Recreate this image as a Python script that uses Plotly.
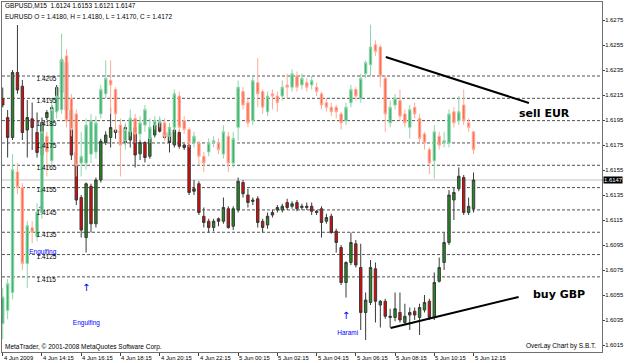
import plotly.graph_objects as go

# ---------------- data ----------------
time_labels = ["4 Jun 2009", "4 Jun 14:15", "4 Jun 16:15", "4 Jun 18:15", "4 Jun 20:15",
               "4 Jun 22:15", "5 Jun 00:15", "5 Jun 02:15", "5 Jun 04:15", "5 Jun 06:15",
               "5 Jun 08:15", "5 Jun 10:15", "5 Jun 12:15"]
label_bars = [0, 8, 16, 24, 32, 40, 48, 56, 64, 72, 80, 88, 96]

gbp_open = [1.6212, 1.6197, 1.6181, 1.6233, 1.6222, 1.6187, 1.6196, 1.6185, 1.6167, 1.6197,
            1.6195, 1.6203, 1.6217, 1.6241, 1.6203, 1.6169, 1.6133, 1.6101, 1.6142, 1.6112,
            1.6147, 1.6177, 1.6181, 1.6187, 1.6185, 1.6189, 1.6179, 1.6189, 1.6168, 1.6177,
            1.6166, 1.6183, 1.6193, 1.6185, 1.6185, 1.6175, 1.6185, 1.6175, 1.6175, 1.6140,
            1.6144, 1.6118, 1.6114, 1.6109, 1.6116, 1.6114, 1.6124, 1.6110, 1.6123, 1.6145,
            1.6135, 1.6131, 1.6132, 1.6114, 1.6111, 1.6121, 1.6123, 1.6123, 1.6129, 1.6126,
            1.6129, 1.6125, 1.6125, 1.6126, 1.6122, 1.6124, 1.6114, 1.6118, 1.6106, 1.6093,
            1.6065, 1.6081, 1.6096, 1.6077, 1.6041, 1.6049, 1.6076, 1.6047, 1.6050, 1.6037,
            1.6037, 1.6041, 1.6033, 1.6039, 1.6042, 1.6037, 1.6043, 1.6050, 1.6037, 1.6066,
            1.6081, 1.6097, 1.6131, 1.6140, 1.6149, 1.6121, 1.6124]
gbp_high = [1.6221, 1.6203, 1.6235, 1.6271, 1.6227, 1.6211, 1.6209, 1.6201, 1.6197, 1.6203,
            1.6207, 1.6223, 1.6245, 1.6245, 1.6205, 1.6171, 1.6135, 1.6145, 1.6144, 1.6149,
            1.6180, 1.6186, 1.6205, 1.6190, 1.6190, 1.6191, 1.6197, 1.6191, 1.6179, 1.6178,
            1.6189, 1.6195, 1.6196, 1.6187, 1.6187, 1.6191, 1.6187, 1.6176, 1.6177, 1.6147,
            1.6146, 1.6125, 1.6116, 1.6116, 1.6117, 1.6133, 1.6126, 1.6126, 1.6149, 1.6147,
            1.6140, 1.6133, 1.6134, 1.6116, 1.6121, 1.6123, 1.6127, 1.6128, 1.6132, 1.6130,
            1.6131, 1.6128, 1.6129, 1.6129, 1.6123, 1.6126, 1.6120, 1.6120, 1.6108, 1.6095,
            1.6082, 1.6105, 1.6099, 1.6096, 1.6057, 1.6083, 1.6081, 1.6051, 1.6052, 1.6044,
            1.6057, 1.6057, 1.6048, 1.6045, 1.6045, 1.6048, 1.6055, 1.6052, 1.6073, 1.6085,
            1.6105, 1.6139, 1.6141, 1.6157, 1.6151, 1.6133, 1.6153]
gbp_low = [1.6205, 1.6165, 1.6179, 1.6216, 1.6179, 1.6165, 1.6171, 1.6165, 1.6163, 1.6195,
           1.6193, 1.6201, 1.6215, 1.6201, 1.6163, 1.6127, 1.6101, 1.6089, 1.6105, 1.6109,
           1.6145, 1.6175, 1.6173, 1.6180, 1.6181, 1.6175, 1.6173, 1.6157, 1.6163, 1.6161,
           1.6164, 1.6181, 1.6185, 1.6179, 1.6169, 1.6173, 1.6172, 1.6171, 1.6135, 1.6135,
           1.6119, 1.6109, 1.6105, 1.6106, 1.6110, 1.6112, 1.6108, 1.6107, 1.6121, 1.6133,
           1.6125, 1.6127, 1.6109, 1.6105, 1.6108, 1.6117, 1.6121, 1.6121, 1.6123, 1.6124,
           1.6122, 1.6123, 1.6123, 1.6119, 1.6119, 1.6101, 1.6112, 1.6104, 1.6089, 1.6063,
           1.6053, 1.6079, 1.6077, 1.6027, 1.6019, 1.6047, 1.6033, 1.6029, 1.6036, 1.6029,
           1.6034, 1.6033, 1.6031, 1.6027, 1.6035, 1.6023, 1.6041, 1.6035, 1.6035, 1.6065,
           1.6075, 1.6095, 1.6115, 1.6138, 1.6119, 1.6119, 1.6121]
gbp_close = [1.6207, 1.6181, 1.6233, 1.6219, 1.6185, 1.6197, 1.6189, 1.6169, 1.6193, 1.6201,
             1.6205, 1.6221, 1.6243, 1.6203, 1.6167, 1.6131, 1.6107, 1.6144, 1.6112, 1.6147,
             1.6178, 1.6183, 1.6189, 1.6185, 1.6186, 1.6177, 1.6186, 1.6167, 1.6177, 1.6165,
             1.6181, 1.6191, 1.6186, 1.6181, 1.6177, 1.6187, 1.6174, 1.6173, 1.6137, 1.6138,
             1.6121, 1.6113, 1.6109, 1.6114, 1.6114, 1.6125, 1.6109, 1.6124, 1.6146, 1.6136,
             1.6129, 1.6130, 1.6113, 1.6109, 1.6118, 1.6119, 1.6125, 1.6126, 1.6125, 1.6128,
             1.6124, 1.6126, 1.6126, 1.6122, 1.6121, 1.6113, 1.6117, 1.6105, 1.6097, 1.6065,
             1.6081, 1.6097, 1.6079, 1.6041, 1.6051, 1.6077, 1.6050, 1.6050, 1.6038, 1.6038,
             1.6044, 1.6035, 1.6038, 1.6041, 1.6039, 1.6045, 1.6049, 1.6037, 1.6065, 1.6077,
             1.6097, 1.6135, 1.6137, 1.6150, 1.6121, 1.6126, 1.6147]

eur_open = [1.4094, 1.4100, 1.4108, 1.4162, 1.4155, 1.4121, 1.4137, 1.4133, 1.4144, 1.4178,
            1.4167, 1.4189, 1.4190, 1.4214, 1.4195, 1.4188, 1.4166, 1.4166, 1.4170, 1.4171,
            1.4188, 1.4197, 1.4203, 1.4199, 1.4183, 1.4176, 1.4180, 1.4186, 1.4179, 1.4183,
            1.4177, 1.4183, 1.4184, 1.4184, 1.4178, 1.4182, 1.4196, 1.4185, 1.4181, 1.4175,
            1.4175, 1.4169, 1.4171, 1.4175, 1.4175, 1.4170, 1.4178, 1.4166, 1.4182, 1.4198,
            1.4193, 1.4185, 1.4202, 1.4198, 1.4189, 1.4197, 1.4196, 1.4196, 1.4201, 1.4200,
            1.4205, 1.4201, 1.4202, 1.4201, 1.4200, 1.4197, 1.4193, 1.4191, 1.4191, 1.4188,
            1.4185, 1.4193, 1.4199, 1.4195, 1.4206, 1.4210, 1.4219, 1.4218, 1.4204, 1.4184,
            1.4192, 1.4194, 1.4188, 1.4182, 1.4191, 1.4186, 1.4179, 1.4172, 1.4167, 1.4178,
            1.4175, 1.4175, 1.4189, 1.4185, 1.4192, 1.4184, 1.4180]
eur_high = [1.4110, 1.4114, 1.4170, 1.4166, 1.4157, 1.4140, 1.4140, 1.4148, 1.4184, 1.4180,
            1.4194, 1.4200, 1.4224, 1.4217, 1.4197, 1.4190, 1.4180, 1.4186, 1.4188, 1.4187,
            1.4201, 1.4212, 1.4212, 1.4200, 1.4186, 1.4184, 1.4190, 1.4188, 1.4187, 1.4192,
            1.4186, 1.4187, 1.4187, 1.4186, 1.4184, 1.4199, 1.4198, 1.4187, 1.4182, 1.4180,
            1.4176, 1.4171, 1.4177, 1.4178, 1.4177, 1.4183, 1.4180, 1.4180, 1.4203, 1.4200,
            1.4195, 1.4205, 1.4213, 1.4199, 1.4198, 1.4199, 1.4198, 1.4203, 1.4206, 1.4208,
            1.4207, 1.4206, 1.4204, 1.4205, 1.4202, 1.4198, 1.4195, 1.4193, 1.4192, 1.4189,
            1.4193, 1.4201, 1.4200, 1.4206, 1.4212, 1.4228, 1.4221, 1.4219, 1.4205, 1.4194,
            1.4197, 1.4199, 1.4190, 1.4192, 1.4193, 1.4188, 1.4180, 1.4173, 1.4183, 1.4180,
            1.4180, 1.4190, 1.4191, 1.4196, 1.4199, 1.4186, 1.4180]
eur_low = [1.4087, 1.4096, 1.4105, 1.4152, 1.4118, 1.4110, 1.4130, 1.4131, 1.4141, 1.4160,
           1.4165, 1.4186, 1.4188, 1.4182, 1.4178, 1.4160, 1.4160, 1.4163, 1.4166, 1.4168,
           1.4186, 1.4195, 1.4188, 1.4180, 1.4160, 1.4172, 1.4178, 1.4175, 1.4176, 1.4180,
           1.4175, 1.4181, 1.4182, 1.4176, 1.4176, 1.4180, 1.4180, 1.4179, 1.4173, 1.4173,
           1.4165, 1.4162, 1.4169, 1.4173, 1.4170, 1.4168, 1.4162, 1.4164, 1.4176, 1.4190,
           1.4182, 1.4183, 1.4191, 1.4188, 1.4187, 1.4190, 1.4189, 1.4194, 1.4195, 1.4198,
           1.4198, 1.4199, 1.4198, 1.4199, 1.4196, 1.4190, 1.4189, 1.4187, 1.4186, 1.4181,
           1.4183, 1.4191, 1.4194, 1.4193, 1.4204, 1.4205, 1.4214, 1.4200, 1.4180, 1.4182,
           1.4190, 1.4185, 1.4182, 1.4177, 1.4186, 1.4175, 1.4172, 1.4161, 1.4159, 1.4172,
           1.4173, 1.4173, 1.4182, 1.4183, 1.4183, 1.4180, 1.4170]
eur_close = [1.4106, 1.4112, 1.4163, 1.4155, 1.4121, 1.4138, 1.4135, 1.4144, 1.4180, 1.4171,
             1.4190, 1.4196, 1.4212, 1.4185, 1.4181, 1.4165, 1.4169, 1.4183, 1.4185, 1.4184,
             1.4199, 1.4204, 1.4201, 1.4188, 1.4174, 1.4181, 1.4186, 1.4179, 1.4184, 1.4190,
             1.4182, 1.4185, 1.4185, 1.4178, 1.4182, 1.4197, 1.4182, 1.4181, 1.4175, 1.4178,
             1.4169, 1.4166, 1.4175, 1.4176, 1.4172, 1.4180, 1.4166, 1.4177, 1.4200, 1.4192,
             1.4184, 1.4203, 1.4197, 1.4191, 1.4196, 1.4196, 1.4193, 1.4200, 1.4200, 1.4206,
             1.4200, 1.4204, 1.4200, 1.4203, 1.4198, 1.4192, 1.4191, 1.4189, 1.4189, 1.4184,
             1.4191, 1.4199, 1.4196, 1.4204, 1.4211, 1.4218, 1.4216, 1.4205, 1.4188, 1.4191,
             1.4195, 1.4187, 1.4184, 1.4190, 1.4188, 1.4177, 1.4175, 1.4166, 1.4180, 1.4174,
             1.4176, 1.4188, 1.4184, 1.4189, 1.4185, 1.4182, 1.4172]

eur_levels = [1.4205, 1.4195, 1.4185, 1.4175, 1.4165, 1.4155, 1.4145, 1.4135, 1.4125, 1.4115]
gbp_ticks = [1.6015, 1.6035, 1.6055, 1.6075, 1.6095, 1.6115, 1.6135, 1.6155, 1.6175,
             1.6195, 1.6215, 1.6235, 1.6255, 1.6275]
gbp_last = 1.6147

pattern_text = ["Engulfing", "Engulfing", "Harami"]
pattern_bar = [5.4, 14.3, 68.2]
pattern_price = [1.6089, 1.6032, 1.6024]
arrow_bar = [7.8, 17.0, 70.0]
arrow_price = [1.6123, 1.6060, 1.6038]

sell_line_bar = [78.1, 107.3]
sell_line_price = [1.62454, 1.62086]
buy_line_bar = [79.1, 105.2]
buy_line_price = [1.60286, 1.60534]

bars = list(range(len(gbp_open)))

FONT = "Liberation Sans, Arial, sans-serif"
SMALL = dict(family=FONT, size=6.5, color="black")
AXIS = dict(family=FONT, size=5.9, color="black")

fig = go.Figure()

# EUR level labels (drawn beneath candles)
fig.add_trace(go.Scatter(
    x=[6.9] * len(eur_levels), y=eur_levels, yaxis="y2", mode="text",
    text=[f"{v:.4f}" for v in eur_levels], textposition="bottom right",
    textfont=SMALL, hoverinfo="skip", showlegend=False))

# pattern labels and arrows (beneath candles)
fig.add_trace(go.Scatter(
    x=pattern_bar, y=pattern_price, mode="text", text=pattern_text,
    textposition="middle right",
    textfont=dict(family=FONT, size=6.5, color="#0000FF"),
    hoverinfo="skip", showlegend=False))
fig.add_trace(go.Scatter(
    x=arrow_bar, y=arrow_price, mode="text", text=["↑"] * len(arrow_bar),
    textposition="middle center",
    textfont=dict(family="DejaVu Sans", size=10, color="#0000FF"),
    hoverinfo="skip", showlegend=False))

# EURUSD overlay candles
fig.add_trace(go.Candlestick(
    x=bars, open=eur_open, high=eur_high, low=eur_low, close=eur_close, yaxis="y2",
    increasing=dict(line=dict(color="#8fd6a8", width=1), fillcolor="#3cb371"),
    decreasing=dict(line=dict(color="#ffab98", width=1), fillcolor="#ff6c4f"),
    hoverinfo="skip", showlegend=False))

# GBPUSD candles
fig.add_trace(go.Candlestick(
    x=bars, open=gbp_open, high=gbp_high, low=gbp_low, close=gbp_close, yaxis="y",
    increasing=dict(line=dict(color="#3a3a3a", width=1), fillcolor="#1e8f1e"),
    decreasing=dict(line=dict(color="#3a3a3a", width=1), fillcolor="#ee0000"),
    hoverinfo="skip", showlegend=False))

shapes = []
for lv in eur_levels:
    shapes.append(dict(type="line", xref="paper", x0=0, x1=1, yref="y2", y0=lv, y1=lv,
                       line=dict(color="#505050", width=1, dash="3px,2px"), layer="below"))
shapes.append(dict(type="line", xref="paper", x0=0, x1=1, yref="y", y0=gbp_last, y1=gbp_last,
                   line=dict(color="#c0c0c0", width=1), layer="below"))
shapes.append(dict(type="line", xref="x", yref="y", x0=sell_line_bar[0], x1=sell_line_bar[1],
                   y0=sell_line_price[0], y1=sell_line_price[1], line=dict(color="black", width=2)))
shapes.append(dict(type="line", xref="x", yref="y", x0=buy_line_bar[0], x1=buy_line_bar[1],
                   y0=buy_line_price[0], y1=buy_line_price[1], line=dict(color="black", width=2)))

annotations = [
    dict(xref="paper", yref="paper", x=0.002, y=0.989, xanchor="left", yanchor="middle",
         text="GBPUSD,M15  1.6124 1.6153 1.6121 1.6147", showarrow=False, font=SMALL),
    dict(xref="paper", yref="paper", x=0.002, y=0.960, xanchor="left", yanchor="middle",
         text="EURUSD O = 1.4180, H = 1.4180, L = 1.4170, C = 1.4172", showarrow=False, font=SMALL),
    dict(xref="paper", yref="paper", x=0.002, y=0.014, xanchor="left", yanchor="middle",
         text="MetaTrader, © 2001-2008 MetaQuotes Software Corp.", showarrow=False, font=SMALL),
    dict(xref="paper", yref="paper", x=0.993, y=0.017, xanchor="right", yanchor="middle",
         text="OverLay Chart by S.B.T.", showarrow=False, font=SMALL),
    dict(xref="x", yref="y", x=104.9, y=1.62006, xanchor="left", yanchor="middle",
         text="<b>sell EUR</b>", showarrow=False,
         font=dict(family="DejaVu Sans", size=11, color="black")),
    dict(xref="x", yref="y", x=107.7, y=1.60558, xanchor="left", yanchor="middle",
         text="<b>buy GBP</b>", showarrow=False,
         font=dict(family="DejaVu Sans", size=11, color="black")),
    dict(xref="paper", yref="y", x=1.0, y=gbp_last, xanchor="left", yanchor="middle",
         xshift=1, text=f"{gbp_last:.4f}", showarrow=False, bgcolor="black", borderpad=0,
         font=dict(family=FONT, size=5.9, color="white")),
]
# time-axis labels, left-aligned at each tick like the terminal draws them
for b, lab in zip(label_bars, time_labels):
    annotations.append(dict(xref="x", yref="paper", x=b, y=-0.017, xanchor="left",
                            yanchor="middle", text=lab, showarrow=False, font=AXIS,
                            borderpad=0))

fig.update_layout(
    width=625, height=363,
    margin=dict(l=2, r=23, t=2, b=11, pad=0),
    paper_bgcolor="white", plot_bgcolor="white",
    showlegend=False,
    shapes=shapes, annotations=annotations,
    xaxis=dict(range=[-0.15, 122.2], tickmode="array", tickvals=label_bars,
               showticklabels=False, ticks="outside", ticklen=3, tickcolor="#404040",
               showgrid=False, zeroline=False, showline=True, linecolor="#707070",
               mirror=True, rangeslider=dict(visible=False), automargin=False, fixedrange=True),
    yaxis=dict(side="right", range=[1.60094, 1.62894], tickmode="array", tickvals=gbp_ticks,
               tickformat=".4f", ticks="outside", ticklen=2, tickcolor="#404040", tickfont=AXIS,
               ticklabelstandoff=-1,
               showgrid=False, zeroline=False, showline=True, linecolor="#707070", mirror=True,
               automargin=False, fixedrange=True),
    yaxis2=dict(overlaying="y", range=[1.408135, 1.423815], visible=False, fixedrange=True),
)

fig.write_html("out.html")
